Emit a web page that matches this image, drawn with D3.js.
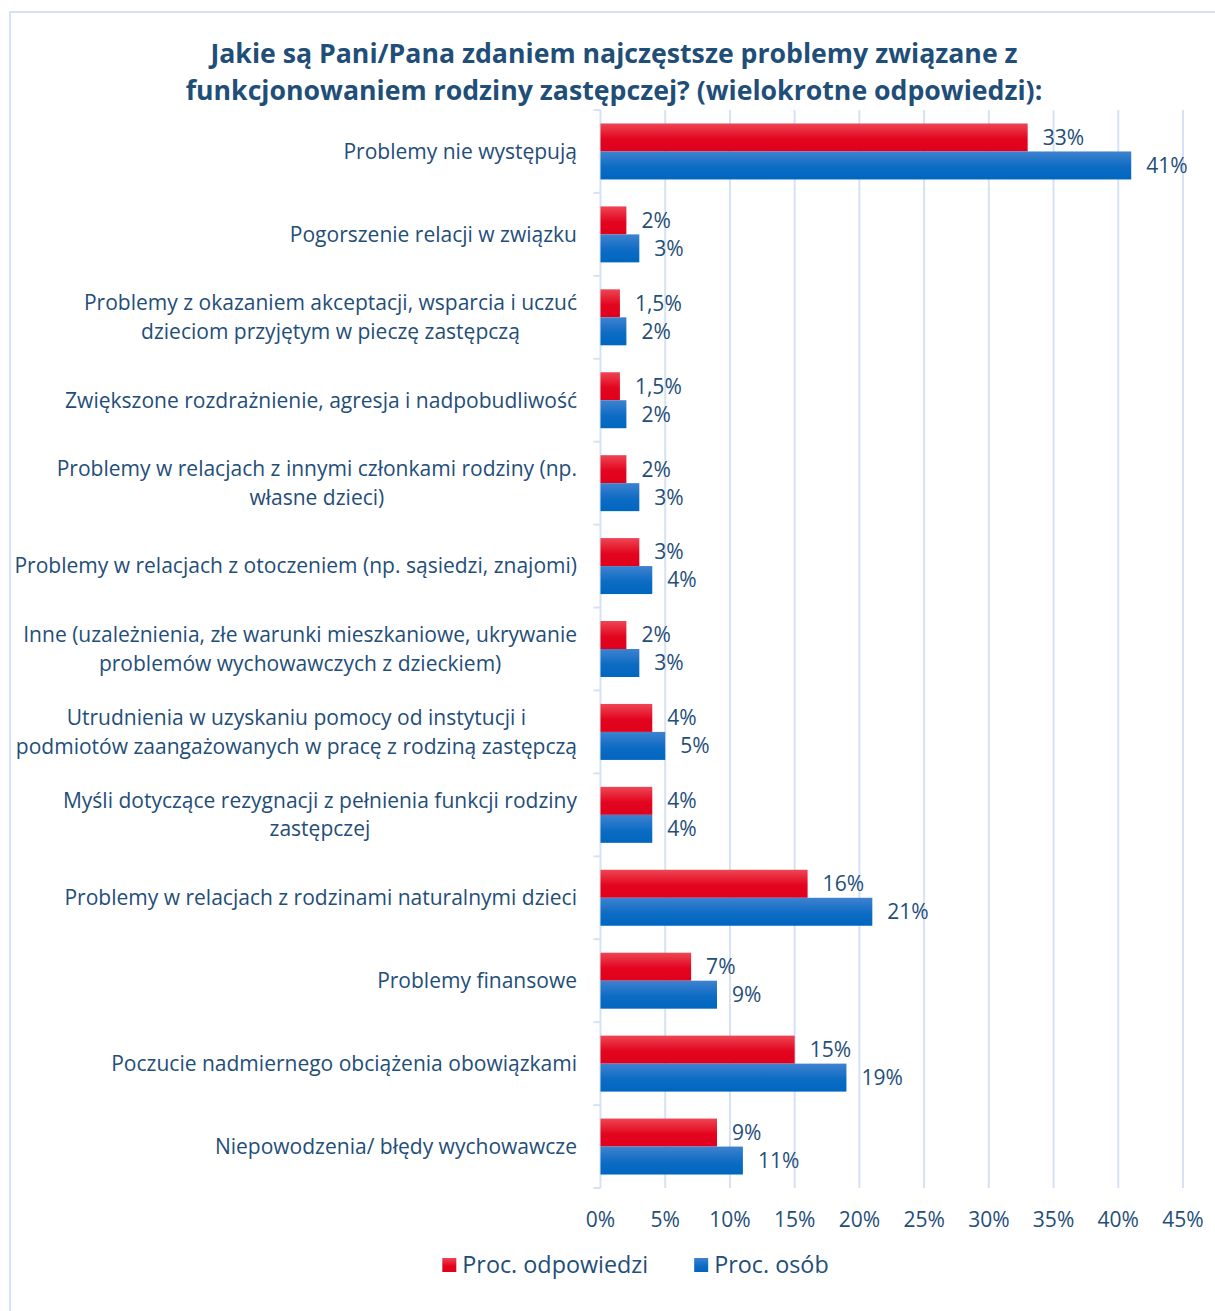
<!DOCTYPE html>
<html>
<head>
<meta charset="utf-8">
<script src="https://cdn.jsdelivr.net/npm/d3@7"></script>
<style>
  html, body { margin: 0; padding: 0; background: #fff; }
  svg { display: block; }
  text { font-family: "Open Sans", Lato, sans-serif; fill: #1F4E79; }
</style>
</head>
<body>
<svg id="chart" width="1215" height="1311"></svg>
<script>
// ---- data ----
const titleLines = [
  "Jakie są Pani/Pana zdaniem najczęstsze problemy związane z",
  "funkcjonowaniem rodziny zastępczej? (wielokrotne odpowiedzi):"
];
const categories = [
  "Problemy nie występują",
  "Pogorszenie relacji w związku",
  "Problemy z okazaniem akceptacji, wsparcia i uczuć\ndzieciom przyjętym w pieczę zastępczą",
  "Zwiększone rozdrażnienie, agresja i nadpobudliwość",
  "Problemy w relacjach z innymi członkami rodziny (np.\nwłasne dzieci)",
  "Problemy w relacjach z otoczeniem (np. sąsiedzi, znajomi)",
  "Inne (uzależnienia, złe warunki mieszkaniowe, ukrywanie\nproblemów wychowawczych z dzieckiem)",
  "Utrudnienia w uzyskaniu pomocy od instytucji i\npodmiotów zaangażowanych w pracę z rodziną zastępczą",
  "Myśli dotyczące rezygnacji z pełnienia funkcji rodziny\nzastępczej",
  "Problemy w relacjach z rodzinami naturalnymi dzieci",
  "Problemy finansowe",
  "Poczucie nadmiernego obciążenia obowiązkami",
  "Niepowodzenia/ błędy wychowawcze"
];
const seriesNames = ["Proc. odpowiedzi", "Proc. osób"];
const procOdpowiedzi = [33, 2, 1.5, 1.5, 2, 3, 2, 4, 4, 16, 7, 15, 9];
const procOsob       = [41, 3, 2, 2, 3, 4, 3, 5, 4, 21, 9, 19, 11];
const xTicks = [0, 5, 10, 15, 20, 25, 30, 35, 40, 45];

// ---- layout ----
const svg = d3.select("#chart");
const plot = { left: 600.5, right: 1183, top: 110, bottom: 1188 };
const gridColor = "#D6E2F3";

// font sizing: fit measured widths to the reference's text widths
function measure(str, size, weight) {
  const t = svg.append("text").style("font-size", size + "px").style("font-weight", weight || "normal").text(str);
  const w = t.node().getComputedTextLength();
  t.remove();
  return w;
}
const bodySize = 20 * 563 / measure("Problemy w relacjach z otoczeniem (np. sąsiedzi, znajomi)", 20);
const titleSize = 28 * 857 / measure(titleLines[1], 28, "bold");
const legendSize = 22 * 186 / measure(seriesNames[0], 22);

const x = d3.scaleLinear().domain([0, 45]).range([plot.left, plot.right]);
const y = d3.scaleBand().domain(d3.range(categories.length)).range([plot.top, plot.bottom]).paddingInner(0.325).paddingOuter(0.1625);
const ySub = d3.scaleBand().domain([0, 1]).range([0, y.bandwidth()]);

// gradients
const defs = svg.append("defs");
const grads = [
  { id: "gRed", top: "#EE4654", mid: "#E3051F", bottom: "#E0001B" },
  { id: "gBlue", top: "#3F82CF", mid: "#0D6CC4", bottom: "#0066BF" }
];
grads.forEach(g => {
  const lg = defs.append("linearGradient").attr("id", g.id).attr("x1", 0).attr("y1", 0).attr("x2", 0).attr("y2", 1);
  lg.append("stop").attr("offset", "0%").attr("stop-color", g.top);
  lg.append("stop").attr("offset", "55%").attr("stop-color", g.mid);
  lg.append("stop").attr("offset", "100%").attr("stop-color", g.bottom);
});
const fills = ["url(#gRed)", "url(#gBlue)"];

// outer frame
svg.append("rect").attr("x", 10).attr("y", 12).attr("width", 1300).attr("height", 1400)
  .attr("fill", "none").attr("stroke", gridColor).attr("stroke-width", 2);

// title
svg.append("g").selectAll("text").data(titleLines).join("text")
  .attr("x", 614).attr("y", (d, i) => 63 + i * 37)
  .attr("text-anchor", "middle")
  .style("font-size", titleSize + "px").style("font-weight", "bold")
  .text(d => d);

// gridlines
svg.append("g").selectAll("line").data(xTicks.filter(t => t > 0)).join("line")
  .attr("x1", d => x(d)).attr("x2", d => x(d))
  .attr("y1", plot.top).attr("y2", plot.bottom)
  .attr("stroke", gridColor).attr("stroke-width", 2);

// category axis (left) with ticks between categories
const boundaries = d3.range(categories.length + 1).map(i => plot.top + i * (plot.bottom - plot.top) / categories.length);
const axisG = svg.append("g");
axisG.append("line").attr("x1", plot.left).attr("x2", plot.left).attr("y1", plot.top).attr("y2", plot.bottom)
  .attr("stroke", gridColor).attr("stroke-width", 2);
axisG.selectAll("line.tk").data(boundaries).join("line").attr("class", "tk")
  .attr("x1", plot.left - 7).attr("x2", plot.left)
  .attr("y1", d => d).attr("y2", d => d)
  .attr("stroke", gridColor).attr("stroke-width", 2);

// bars
const series = [procOdpowiedzi, procOsob];
const barsG = svg.append("g");
series.forEach((vals, s) => {
  barsG.append("g").selectAll("rect").data(vals).join("rect")
    .attr("x", x(0))
    .attr("y", (d, i) => y(i) + ySub(s))
    .attr("width", d => x(d) - x(0))
    .attr("height", ySub.bandwidth())
    .attr("fill", fills[s]);
});

// value labels
const fmt = v => String(v).replace(".", ",") + "%";
series.forEach((vals, s) => {
  svg.append("g").selectAll("text").data(vals).join("text")
    .attr("x", d => x(d) + 15)
    .attr("y", (d, i) => y(i) + ySub(s) + ySub.bandwidth() / 2)
    .attr("dy", "0.35em")
    .style("font-size", bodySize + "px")
    .text(d => fmt(d));
});

// category labels (centered block, right-aligned to axis)
const labelRight = 577;
const catG = svg.append("g");
categories.forEach((c, i) => {
  const lines = c.split("\n");
  const g = catG.append("g");
  const texts = g.selectAll("text").data(lines).join("text")
    .attr("text-anchor", "middle")
    .attr("y", (d, j) => y(i) + y.bandwidth() / 2 + (j - (lines.length - 1) / 2) * 28.5)
    .attr("dy", "0.35em")
    .style("font-size", bodySize + "px")
    .text(d => d);
  let maxW = 0;
  texts.each(function () { maxW = Math.max(maxW, this.getComputedTextLength()); });
  texts.attr("x", labelRight - maxW / 2);
});

// x axis tick labels
svg.append("g").selectAll("text").data(xTicks).join("text")
  .attr("x", d => x(d)).attr("y", 1220).attr("dy", "0.35em")
  .attr("text-anchor", "middle")
  .style("font-size", bodySize + "px")
  .text(d => d + "%");

// legend
const legG = svg.append("g");
const sw = 14, gapSw = 6, gapItem = 46, legY = 1265;
const items = legG.selectAll("g").data(seriesNames).join("g");
items.append("rect").attr("width", sw).attr("height", sw).attr("y", legY - sw / 2)
  .attr("fill", (d, i) => fills[i]);
items.append("text").attr("x", sw + gapSw).attr("y", legY).attr("dy", "0.35em")
  .style("font-size", legendSize + "px").text(d => d);
let widths = [];
items.each(function () { widths.push(this.querySelector("text").getComputedTextLength() + sw + gapSw); });
const total = d3.sum(widths) + gapItem * (widths.length - 1);
let cx = 635.5 - total / 2;
items.attr("transform", (d, i) => { const t = `translate(${cx},0)`; cx += widths[i] + gapItem; return t; });
</script>
</body>
</html>
